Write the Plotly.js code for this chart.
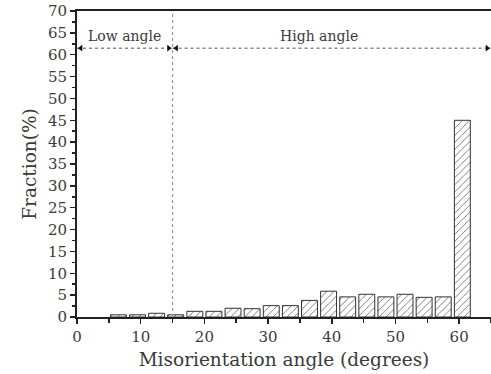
<!DOCTYPE html>
<html><head><meta charset="utf-8">
<script src="https://cdn.plot.ly/plotly-3.0.1.min.js"></script>
<style>html,body{margin:0;padding:0;background:#fff}#c{width:491px;height:374px}</style>
</head><body><div id="c"></div>
<script>
const binCenters = [6.5, 9.5, 12.5, 15.5, 18.5, 21.5, 24.5, 27.5, 30.5, 33.5, 36.5, 39.5, 42.5, 45.5, 48.5, 51.5, 54.5, 57.5, 60.5];
const fractions  = [0.5, 0.5, 0.85, 0.5, 1.3, 1.3, 2.0, 1.9, 2.6, 2.6, 3.8, 5.9, 4.6, 5.2, 4.6, 5.2, 4.5, 4.6, 45.0];
const lowRange = [0, 15];
const highRange = [15, 65];
const arrowLevel = 61.5;
const boundaryX = 15;
const labels = ["Low angle", "High angle"];

const font = "DejaVu Serif, Liberation Serif, serif";
const txt = "#3a3a3a";

const traces = [
  {type:'bar', x: binCenters, y: fractions, width: 2.5,
   marker:{color:'#fff', line:{color:'#333', width:1},
           pattern:{shape:'/', fgcolor:'#555', bgcolor:'#fff', size:5, solidity:0.15}},
   hoverinfo:'skip'},
  {type:'scatter', mode:'lines', x:[boundaryX, boundaryX], y:[0, 70],
   line:{color:'#999', width:1.2, dash:'dot'}},
  {type:'scatter', mode:'lines', x: lowRange, y:[arrowLevel, arrowLevel],
   line:{color:'#888', width:1.5, dash:'dot'}},
  {type:'scatter', mode:'lines', x: highRange, y:[arrowLevel, arrowLevel],
   line:{color:'#888', width:1.5, dash:'dot'}},
  {type:'scatter', mode:'markers', x:[lowRange[0]+0.6, highRange[0]+0.6],
   y:[arrowLevel, arrowLevel], marker:{symbol:'triangle-left', size:6, color:'#111'}},
  {type:'scatter', mode:'markers', x:[lowRange[1]-0.6, highRange[1]-0.6],
   y:[arrowLevel, arrowLevel], marker:{symbol:'triangle-right', size:6, color:'#111'}}
];

const layout = {
  width:491, height:374, showlegend:false,
  paper_bgcolor:'#fff', plot_bgcolor:'#fff',
  margin:{l:77, r:0, t:11, b:57},
  font:{family:font, color:txt, size:14},
  xaxis:{range:[0,65], showgrid:false, zeroline:false,
    tickmode:'linear', tick0:0, dtick:10, ticks:'outside', ticklen:5, tickwidth:1.5, tickcolor:'#222',
    minor:{dtick:5, ticks:'outside', ticklen:4, tickwidth:1.5, tickcolor:'#222'},
    showline:true, linecolor:'#222', linewidth:2, mirror:true,
    tickfont:{family:font, size:15, color:txt},
    title:{text:'Misorientation angle (degrees)', font:{family:font, size:18.5, color:txt}, standoff:8}},
  yaxis:{range:[0,70], showgrid:false, zeroline:false,
    tickmode:'linear', tick0:0, dtick:5, ticks:'outside', ticklen:5, tickwidth:1.5, tickcolor:'#222',
    minor:{dtick:2.5, ticks:'outside', ticklen:3, tickwidth:1.5, tickcolor:'#222'},
    showline:true, linecolor:'#222', linewidth:2, mirror:false,
    tickfont:{family:font, size:15, color:txt},
    title:{text:'Fraction(%)', font:{family:font, size:18.5, color:txt}, standoff:6}},
  annotations:[
    {x:(lowRange[0]+lowRange[1])/2, y:arrowLevel, yshift:12, text:labels[0], showarrow:false,
     font:{family:font, size:14, color:txt}},
    {x:(highRange[0]+highRange[1])/2 - 2, y:arrowLevel, yshift:12, text:labels[1], showarrow:false,
     font:{family:font, size:14, color:txt}}
  ]
};
Plotly.newPlot('c', traces, layout, {staticPlot:true, displayModeBar:false});
</script></body></html>
